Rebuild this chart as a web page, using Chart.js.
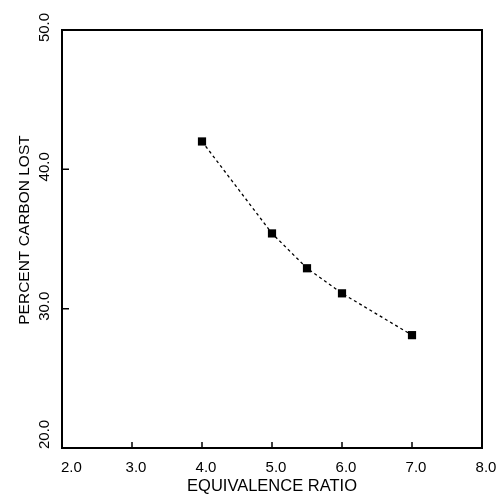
<!DOCTYPE html>
<html>
<head>
<meta charset="utf-8">
<script src="https://cdn.jsdelivr.net/npm/chart.js@4/dist/chart.umd.min.js"></script>
<style>
  html, body { margin: 0; padding: 0; background: #ffffff; }
  #wrap { width: 497px; height: 496px; }
</style>
</head>
<body>
<div id="wrap"><canvas id="c" width="497" height="496"></canvas></div>
<script>
// ---- data ----
const equivalenceRatio = [4.0, 5.0, 5.5, 6.0, 7.0];
const percentCarbonLost = [42.0, 35.4, 32.9, 31.1, 28.1];
const xTickValues = [2, 3, 4, 5, 6, 7, 8];
const xTickLabels = ['2.0', '3.0', '4.0', '5.0', '6.0', '7.0', '8.0'];
const yTickValues = [20, 30, 40, 50];
const yTickLabels = ['20.0', '30.0', '40.0', '50.0'];
const xTitle = 'EQUIVALENCE RATIO';
const yTitle = 'PERCENT CARBON LOST';

const points = equivalenceRatio.map((x, i) => ({ x: x, y: percentCarbonLost[i] }));
const FONT = '"Liberation Sans", Arial, Helvetica, sans-serif';

const framePlugin = {
  id: 'frame',
  afterDraw(chart) {
    const ctx = chart.ctx;
    const a = chart.chartArea;
    const xs = chart.scales.x, ys = chart.scales.y;
    ctx.save();
    ctx.strokeStyle = '#000';
    ctx.lineWidth = 2;
    ctx.strokeRect(a.left, a.top, a.right - a.left, a.bottom - a.top);
    // inner major ticks
    ctx.lineWidth = 1.5;
    ctx.beginPath();
    xTickValues.forEach(v => {
      const px = xs.getPixelForValue(v);
      if (px <= a.left + 1 || px >= a.right - 1) return;
      ctx.moveTo(px, a.bottom);
      ctx.lineTo(px, a.bottom - 6);
    });
    yTickValues.forEach(v => {
      const py = ys.getPixelForValue(v);
      if (py <= a.top + 1 || py >= a.bottom - 1) return;
      ctx.moveTo(a.left, py);
      ctx.lineTo(a.left + 7, py);
    });
    ctx.stroke();
    // tick labels
    ctx.fillStyle = '#000';
    ctx.font = '15px ' + FONT;
    ctx.textBaseline = 'alphabetic';
    xTickValues.forEach((v, i) => {
      const px = xs.getPixelForValue(v) + 4;
      const w = ctx.measureText(xTickLabels[i]).width;
      let left = px - w / 2;
      if (left < a.left - 1) left = a.left - 1;
      ctx.textAlign = 'left';
      ctx.fillText(xTickLabels[i], left, a.bottom + 24);
    });
    yTickValues.forEach((v, i) => {
      const py = ys.getPixelForValue(v) - 2.5;
      const w = ctx.measureText(yTickLabels[i]).width;
      let start = py + w / 2; // bottom end of rotated text
      if (start > a.bottom + 1) start = a.bottom + 1;
      ctx.save();
      ctx.translate(a.left - 13, start);
      ctx.rotate(-Math.PI / 2);
      ctx.textAlign = 'left';
      ctx.fillText(yTickLabels[i], 0, 0);
      ctx.restore();
    });
    // y axis title
    ctx.font = '15.5px ' + FONT;
    ctx.save();
    ctx.translate(29, (a.top + a.bottom) / 2 - 9);
    ctx.rotate(-Math.PI / 2);
    ctx.textAlign = 'center';
    ctx.fillText(yTitle, 0, 0);
    ctx.restore();
    ctx.restore();
  }
};

new Chart(document.getElementById('c'), {
  type: 'scatter',
  data: {
    datasets: [{
      data: points,
      showLine: true,
      borderColor: '#000',
      borderWidth: 1.3,
      borderDash: [3, 3],
      tension: 0,
      pointStyle: 'rect',
      pointRadius: 5.8,
      pointHoverRadius: 5.8,
      pointBackgroundColor: '#000',
      pointBorderColor: '#000',
      pointBorderWidth: 0
    }]
  },
  options: {
    responsive: false,
    animation: false,
    events: [],
    layout: { padding: { top: 30, right: 15, left: 12, bottom: 0 } },
    plugins: { legend: { display: false }, tooltip: { enabled: false } },
    scales: {
      x: {
        type: 'linear',
        min: 2, max: 8,
        grid: { display: false },
        border: { display: false },
        ticks: { display: false, stepSize: 1 },
        title: { display: true, text: xTitle, color: '#000', padding: 0,
                 font: { family: FONT, size: 16.5 } },
        afterFit(scale) { scale.height = 48; }
      },
      y: {
        type: 'linear',
        min: 20, max: 50,
        grid: { display: false },
        border: { display: false },
        ticks: { display: false, stepSize: 10 },
        title: { display: false },
        afterFit(scale) { scale.width = 50; }
      }
    }
  },
  plugins: [framePlugin]
});
</script>
</body>
</html>
